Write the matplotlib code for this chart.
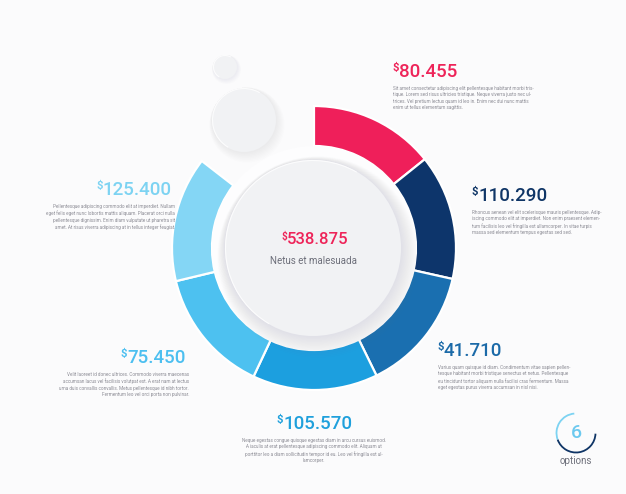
import matplotlib
matplotlib.use("Agg")
import matplotlib.pyplot as plt
from matplotlib.patches import Circle, Arc

plt.rcParams['font.family'] = ['Roboto', 'DejaVu Sans']

# data
values = ["80.455", "110.290", "41.710", "105.570", "75.450", "125.400"]
total = "538.875"
total_label = "Netus et malesuada"
arc_deg = [51.3, 51.3, 51.3, 51.3, 51.3, 51.3]   # segments drawn with equal spans
gap_deg = 360 - sum(arc_deg)
ring_colors = ['#ef1f5a', '#0d356b', '#1a6fb0', '#1c9fdf', '#4dc1f0', '#84d6f5']
text_colors = ['#ee2459', '#0f3566', '#1b6aa8', '#1fa0dc', '#4cbff0', '#7dd3f2']
descs = [
    "Sit amet consectetur adipiscing elit pellentesque habitant morbi tris-\n"
    "tique. Lorem sed risus ultricies tristique. Neque viverra justo nec ul-\n"
    "trices. Vel pretium lectus quam id leo in. Enim nec dui nunc mattis\n"
    "enim ut tellus elementum sagittis.",
    "Rhoncus aenean vel elit scelerisque mauris pellentesque. Adip-\n"
    "iscing commodo elit at imperdiet. Non enim praesent elemen-\n"
    "tum facilisis leo vel fringilla est ullamcorper. In vitae turpis\n"
    "massa sed elementum tempus egestas sed sed.",
    "Varius quam quisque id diam. Condimentum vitae sapien pellen-\n"
    "tesque habitant morbi tristique senectus et netus. Pellentesque\n"
    "eu tincidunt tortor aliquam nulla facilisi cras fermentum. Massa\n"
    "eget egestas purus viverra accumsan in nisl nisi.",
    "Neque egestas congue quisque egestas diam in arcu cursus euismod.\n"
    "A iaculis at erat pellentesque adipiscing commodo elit. Aliquam ut\n"
    "porttitor leo a diam sollicitudin tempor id eu. Leo vel fringilla est ul-\n"
    "lamcorper.",
    "Velit laoreet id donec ultrices. Commodo viverra maecenas\n"
    "accumsan lacus vel facilisis volutpat est. A erat nam at lectus\n"
    "urna duis convallis convallis. Metus pellentesque id nibh tortor.\n"
    "Fermentum leo vel orci porta non pulvinar.",
    "Pellentesque adipiscing commodo elit at imperdiet. Nullam\n"
    "eget felis eget nunc lobortis mattis aliquam. Placerat orci nulla\n"
    "pellentesque dignissim. Enim diam vulputate ut pharetra sit\n"
    "amet. At risus viverra adipiscing at in tellus integer feugiat.",
]
n_options = 6

W, H = 626, 494
BG = '#fbfbfc'
fig = plt.figure(figsize=(W / 100, H / 100), dpi=100, facecolor=BG)
ax = fig.add_axes([0, 0, 1, 1])
ax.set_xlim(0, W)
ax.set_ylim(0, H)
ax.set_aspect('equal')
ax.axis('off')
ax.set_facecolor(BG)

cx, cy = 314, H - 248

# ring
wedges, _ = ax.pie(arc_deg + [gap_deg], startangle=90, counterclock=False,
                   radius=142, center=(cx, cy), colors=ring_colors + ['none'],
                   wedgeprops=dict(width=40, edgecolor='white', linewidth=1.6))
wedges[-1].set_edgecolor('none')
ax.set_xlim(0, W)
ax.set_ylim(0, H)

# white channel between ring and disk
ax.add_patch(Circle((cx, cy), 102, facecolor='#fdfdfe', edgecolor='none', zorder=2))


def soft_circle(x, y, r, face, shadow=0.05, steps=8, spread=1.0, off=(2.5, -3.5)):
    for i in range(steps, 0, -1):
        ax.add_patch(Circle((x + off[0] * i / steps, y + off[1] * i / steps),
                            r + i * spread, facecolor='#7d8299',
                            alpha=shadow / steps, edgecolor='none', zorder=3))
    ax.add_patch(Circle((x, y), r, facecolor=face, edgecolor='none', zorder=4))
    # light rim on the upper left, softens the edge
    ax.add_patch(Arc((x, y), 2 * r - 1, 2 * r - 1, theta1=60, theta2=240,
                     color='white', lw=0.8, alpha=0.8, zorder=4.5))


soft_circle(cx - 1, cy, 88, '#f1f2f4', shadow=0.18, steps=14, spread=0.9, off=(5, -9))
soft_circle(244, H - 120, 32, '#f1f2f4', shadow=0.12, steps=8, spread=0.7, off=(3, -5))
soft_circle(225, H - 67, 12, '#f1f2f4', shadow=0.09, steps=5, spread=0.5, off=(1.5, -2.5))

fig.canvas.draw()
renderer = fig.canvas.get_renderer()


def money(x, y, s, color, ha, size=13.5):
    t = ax.text(x, y, s, color=color, fontsize=size, fontweight='medium',
                ha=ha, va='center', zorder=6)
    bb = t.get_window_extent(renderer).transformed(ax.transData.inverted())
    ax.text(bb.x0 - 0.2, bb.y1 + 0.3, '$', color=color, fontsize=size * 0.6,
            fontweight='bold', ha='right', va='top', zorder=6)
    return t


def desc(x, y, s, ha):
    ax.text(x, y, s, color='#8c8c95', fontsize=3.3, ha=ha, va='top',
            linespacing=1.35, multialignment=ha, zorder=6)


# labels: (x, y of number, alignment)
layout = [(399, 72, 'left'), (478, 196, 'left'), (444, 351, 'left'),
          (318, 424, 'center'), (186, 358, 'right'), (172, 190, 'right')]
for v, col, d, (x, y, ha) in zip(values, text_colors, descs, layout):
    money(x, H - y, v, col, ha)
    dx = {'left': -6, 'right': 3, 'center': -4}[ha]
    desc(x + dx, H - y - 14, d, ha)

# centre
money(cx + 4, H - 240, total, '#ee2459', 'center', size=12)
ax.text(cx, H - 261, total_label, color='#6d6f7a', fontsize=7, ha='center',
        va='center', zorder=6)

# options badge
ox, oy = 576, H - 433
ax.add_patch(Arc((ox, oy), 39, 39, theta1=95, theta2=200, color='#7dd3f2',
                 lw=1.3, zorder=6))
ax.add_patch(Arc((ox, oy), 39, 39, theta1=200, theta2=358, color='#0f3566',
                 lw=1.3, zorder=6))
ax.text(ox, oy, str(n_options), color='#6cc9ef', fontsize=14,
        fontweight='medium', ha='center', va='center', zorder=6)
ax.text(ox, H - 461, 'options', color='#6d6f7a', fontsize=7, ha='center',
        va='center', zorder=6)

fig.savefig('out.png', dpi=100, facecolor=BG)
